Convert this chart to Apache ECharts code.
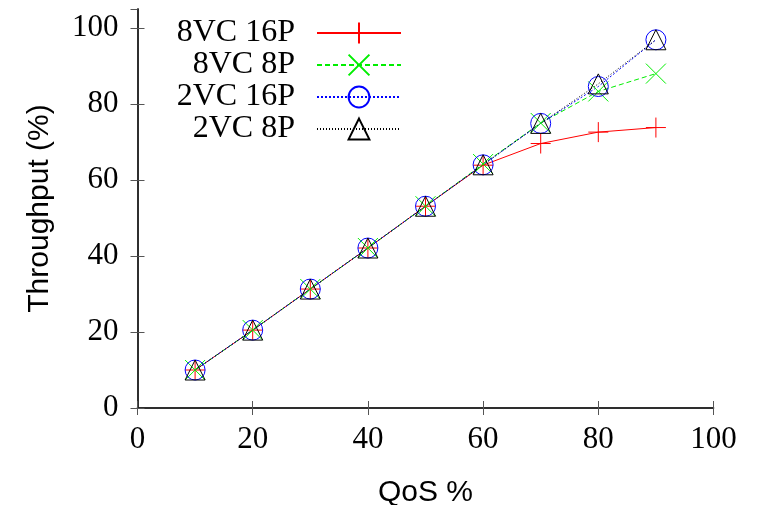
<!DOCTYPE html>
<html>
<head>
<meta charset="utf-8">
<script src="https://cdn.jsdelivr.net/npm/echarts@6/dist/echarts.min.js"></script>
<style>html,body{margin:0;padding:0;background:#fff}#c{width:758px;height:505px}</style>
</head>
<body>
<div id="c"></div>
<script>
const qos = [10, 20, 30, 40, 50, 60, 70, 80, 90];
const vc8p16 = [10, 20.5, 31.3, 42.1, 53.1, 63.9, 69.6, 72.6, 73.8];
const vc8p8 = [10, 20.5, 31.3, 42.1, 53.1, 64.2, 75.0, 83.3, 88.0];
const vc2p16 = [10, 20.5, 31.3, 42.1, 53.1, 64.0, 74.9, 84.6, 96.9];
const vc2p8 = [10, 20.5, 31.3, 42.1, 53.1, 64.0, 74.9, 85.3, 96.9];
const seriesNames = ['8VC 16P', '8VC 8P', '2VC 16P', '2VC 8P'];
const xTicks = [0, 20, 40, 60, 80, 100];
const yTicks = [0, 20, 40, 60, 80, 100];

const chart = echarts.init(document.getElementById('c'), null, {renderer: 'canvas'});
const serif = 'Liberation Serif';
const sans = 'Liberation Sans';
const frame = {show: true, lineStyle: {color: '#222', width: 1.5}};
const tickIn = {show: true, inside: true, length: 7, lineStyle: {color: '#555', width: 1}};

function pts(ys) { return qos.map((x, i) => [x, ys[i]]); }

const plus = 'path://M10,0L10,20M0,10L20,10';
const cross = 'path://M0,0L20,20M20,0L0,20';

function mk(name, ys, color, type, symbol, size) {
  return {
    name: name, type: 'line', data: pts(ys),
    symbol: symbol, symbolSize: size, showAllSymbol: true,
    lineStyle: {color: color, width: 1, type: type},
    itemStyle: {color: 'none', borderColor: color, borderWidth: 1},
    emphasis: {disabled: true},
    animation: false
  };
}

chart.setOption({
  animation: false,
  grid: {left: 137.5, right: 44.5, top: 9, bottom: 97, containLabel: false, outerBoundsMode: 'none'},
  legend: {
    orient: 'vertical', left: 143, top: 12, align: 'right',
    itemWidth: 84, itemHeight: 26, itemGap: 0,
    data: seriesNames,
    textStyle: {fontFamily: serif, fontSize: 32, color: '#000', width: 147, align: 'right', lineHeight: 26, padding: [0, 17, 0, 0]}
  },
  xAxis: [{
    type: 'value', min: 0, max: 100, interval: 20,
    name: 'QoS %', nameLocation: 'middle', nameGap: 70,
    nameTextStyle: {fontFamily: sans, fontSize: 30, color: '#000'},
    axisLine: frame, axisTick: tickIn, splitLine: {show: false},
    axisLabel: {fontFamily: serif, fontSize: 31, color: '#000', margin: 16,
      formatter: v => xTicks.includes(v) ? String(v) : ''}
  }, {
    type: 'value', position: 'top', min: 0, max: 100, interval: 20,
    axisLine: frame, axisTick: tickIn, splitLine: {show: false}, axisLabel: {show: false}
  }],
  yAxis: [{
    type: 'value', min: 0, max: 105, interval: 20,
    name: 'Throughput (%)', nameLocation: 'middle', nameGap: 83,
    nameTextStyle: {fontFamily: sans, fontSize: 30, color: '#000'},
    axisLine: frame, axisTick: tickIn, splitLine: {show: false},
    axisLabel: {fontFamily: serif, fontSize: 31, color: '#000', margin: 19, showMaxLabel: false,
      formatter: v => yTicks.includes(v) ? String(v) : ''}
  }, {
    type: 'value', position: 'right', min: 0, max: 105, interval: 20,
    axisLine: frame, axisTick: tickIn, splitLine: {show: false}, axisLabel: {show: false}
  }],
  series: [
    mk(seriesNames[0], vc8p16, '#ff0000', 'solid', plus, 20),
    mk(seriesNames[1], vc8p8, '#00ee00', [5, 3], cross, 20),
    mk(seriesNames[2], vc2p16, '#0000ff', [2, 2], 'circle', 20),
    mk(seriesNames[3], vc2p8, '#000000', [1, 2], 'triangle', 20)
  ]
});
</script>
</body>
</html>
